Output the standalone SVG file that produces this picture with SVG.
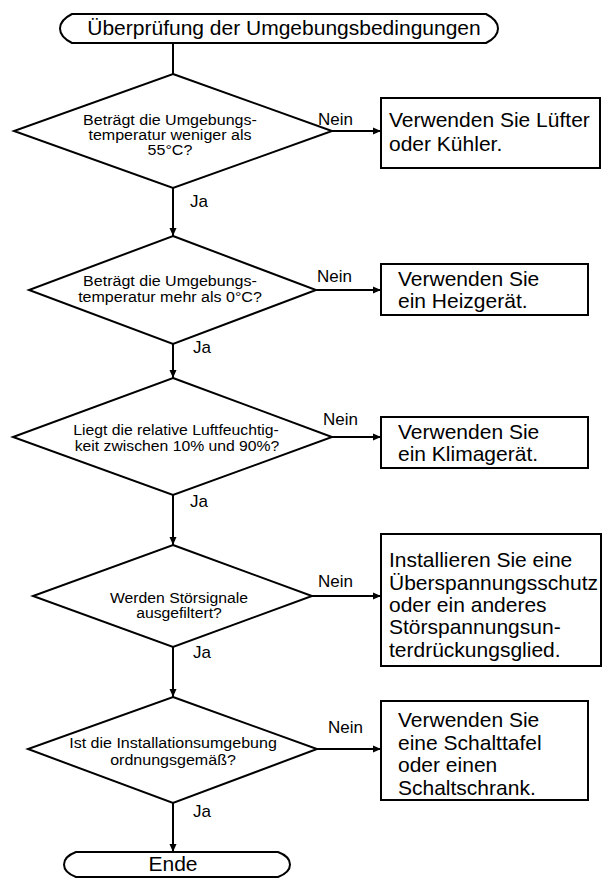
<svg xmlns="http://www.w3.org/2000/svg" width="602" height="879" viewBox="0 0 602 879">
<style>
.sh{fill:#fff;stroke:#000;stroke-width:2}
.ln{fill:none;stroke:#000;stroke-width:2}
text{font-family:"Liberation Sans",Arial,sans-serif;fill:#000}
.q{font-size:15px;text-anchor:middle}
.b{font-size:21px}
.t{font-size:21px;text-anchor:middle}
.l{font-size:17px}
</style>
<defs>
<marker id="ah" markerUnits="userSpaceOnUse" markerWidth="9" markerHeight="8" refX="8" refY="4" orient="auto">
<path d="M0,0.5 L8,4 L0,7.5 z" fill="#000"/>
</marker>
</defs>
<rect width="602" height="879" fill="#fff"/>
<g id="connectors">
<line class="ln" x1="173" y1="43" x2="173" y2="74"/>
<line class="ln" x1="173" y1="188" x2="173" y2="236" marker-end="url(#ah)"/>
<line class="ln" x1="173" y1="344" x2="173" y2="378" marker-end="url(#ah)"/>
<line class="ln" x1="173" y1="495" x2="173" y2="545" marker-end="url(#ah)"/>
<line class="ln" x1="173" y1="647" x2="173" y2="697" marker-end="url(#ah)"/>
<line class="ln" x1="173" y1="803" x2="173" y2="852" marker-end="url(#ah)"/>
<line class="ln" x1="332" y1="131" x2="381" y2="131" marker-end="url(#ah)"/>
<line class="ln" x1="316" y1="290" x2="381" y2="290" marker-end="url(#ah)"/>
<line class="ln" x1="332" y1="437" x2="381" y2="437" marker-end="url(#ah)"/>
<line class="ln" x1="312" y1="596" x2="381" y2="596" marker-end="url(#ah)"/>
<line class="ln" x1="317" y1="749" x2="381" y2="749" marker-end="url(#ah)"/>
<text class="l" x="318" y="125">Nein</text>
<text class="l" x="317" y="282">Nein</text>
<text class="l" x="323" y="425">Nein</text>
<text class="l" x="318" y="587">Nein</text>
<text class="l" x="328" y="733">Nein</text>
<text class="l" x="190" y="207">Ja</text>
<text class="l" x="193" y="353">Ja</text>
<text class="l" x="190" y="507">Ja</text>
<text class="l" x="193" y="658">Ja</text>
<text class="l" x="193" y="817">Ja</text>
</g>
<g id="start">
<path class="sh" d="M72,14 H486 C494,18 498,23 498,28.5 C498,34 494,39 486,43 H72 C64,39 60,34 60,28.5 C60,23 64,18 72,14 Z"/>
<text class="t" x="284" y="35">Überprüfung der Umgebungsbedingungen</text>
</g>
<g id="d1">
<polygon class="sh" points="173,74 332,131 173,188 14,131"/>
<g transform="matrix(1.07,0,0,1,-11.9,0)">
<text class="q" x="170" y="125">Beträgt die Umgebungs-</text>
<text class="q" x="170" y="140">temperatur weniger als</text>
<text class="q" x="170" y="155">55°C?</text>
</g>
</g>
<g id="b1">
<rect class="sh" x="381" y="98" width="219" height="70"/>
<text class="b" x="389" y="127">Verwenden Sie Lüfter</text>
<text class="b" x="389" y="151">oder Kühler.</text>
</g>
<g id="d2">
<polygon class="sh" points="173,236 316,290 173,344 29,290"/>
<g transform="matrix(1.07,0,0,1,-11.9,0)">
<text class="q" x="170" y="286">Beträgt die Umgebungs-</text>
<text class="q" x="170" y="302">temperatur mehr als 0°C?</text>
</g>
</g>
<g id="b2">
<rect class="sh" x="381" y="264" width="207" height="51"/>
<text class="b" x="398" y="286">Verwenden Sie</text>
<text class="b" x="398" y="308">ein Heizgerät.</text>
</g>
<g id="d3">
<polygon class="sh" points="173,378 332,437 173,495 13,437"/>
<g transform="matrix(1.05,0,0,1,-8.8,0)">
<text class="q" x="176" y="435">Liegt die relative Luftfeuchtig-</text>
<text class="q" x="177" y="451">keit zwischen 10% und 90%?</text>
</g>
</g>
<g id="b3">
<rect class="sh" x="381" y="417" width="207" height="51"/>
<text class="b" x="398" y="439">Verwenden Sie</text>
<text class="b" x="398" y="461">ein Klimagerät.</text>
</g>
<g id="d4">
<polygon class="sh" points="173,545 312,596 173,647 33,596"/>
<g transform="matrix(1.05,0,0,1,-8.95,0)">
<text class="q" x="179" y="603">Werden Störsignale</text>
<text class="q" x="179" y="618">ausgefiltert?</text>
</g>
</g>
<g id="b4">
<rect class="sh" x="381" y="534" width="220" height="132"/>
<text class="b" x="389" y="567">Installieren Sie eine</text>
<text class="b" x="389" y="590">Überspannungsschutz</text>
<text class="b" x="389" y="612">oder ein anderes</text>
<text class="b" x="389" y="634">Störspannungsun-</text>
<text class="b" x="389" y="657">terdrückungsglied.</text>
</g>
<g id="d5">
<polygon class="sh" points="173,697 317,749 173,803 28,749"/>
<g transform="matrix(1.07,0,0,1,-12.1,0)">
<text class="q" x="173" y="748">Ist die Installationsumgebung</text>
<text class="q" x="173" y="765">ordnungsgemäß?</text>
</g>
</g>
<g id="b5">
<rect class="sh" x="381" y="701" width="207" height="99"/>
<text class="b" x="398" y="727">Verwenden Sie</text>
<text class="b" x="398" y="750">eine Schalttafel</text>
<text class="b" x="398" y="772">oder einen</text>
<text class="b" x="398" y="795">Schaltschrank.</text>
</g>
<g id="end">
<path class="sh" d="M76,852 H278 C286,855 290,860 290,864.5 C290,869 286,874 278,877 H76 C68,874 64,869 64,864.5 C64,860 68,855 76,852 Z"/>
<text class="t" x="173" y="871">Ende</text>
</g>
</svg>
